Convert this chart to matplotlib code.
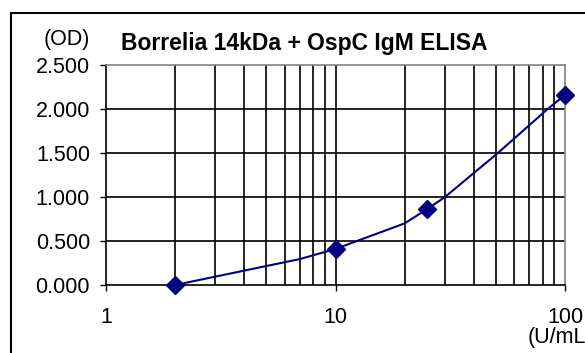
import matplotlib
matplotlib.use("Agg")
import matplotlib.pyplot as plt
from matplotlib.patches import Rectangle
import numpy as np

# calibrator points (markers)
conc = [2, 10, 25, 100]
od = [0.000, 0.410, 0.860, 2.160]
# fitted standard-curve line
curve_x = [2, 7, 10, 20, 25, 30, 51, 84, 100]
curve_y = [0.000, 0.295, 0.410, 0.700, 0.860, 1.000, 1.500, 2.000, 2.160]

yticks = [0.0, 0.5, 1.0, 1.5, 2.0, 2.5]
ytick_labels = ["0.000", "0.500", "1.000", "1.500", "2.000", "2.500"]
xticks = [1, 10, 100]
xtick_labels = ["1", "10", "100"]
title = "Borrelia 14kDa + OspC IgM ELISA"

plt.rcParams['font.family'] = ['Liberation Sans', 'DejaVu Sans']

fig = plt.figure(figsize=(5.85, 3.53), dpi=100)
W, H = 585, 353
ax = fig.add_axes([106 / W, 1 - 285 / H, (565 - 106) / W, (285 - 65) / H])

ax.set_xscale('log')
ax.set_xlim(1, 100)
ax.set_ylim(0, 2.5)

minor = [m * d for d in (1, 10) for m in range(2, 10)]
for xv in minor + [10]:
    ax.axvline(xv, color='black', lw=1.2, zorder=1)
for yv in yticks[1:-1]:
    ax.axhline(yv, color='black', lw=1.2, zorder=1)

ax.plot(curve_x, curve_y, color='#000080', lw=1.5, zorder=3, clip_on=False)
ax.plot(conc, od, linestyle='none', marker='D', markersize=9,
        markerfacecolor='#000080', markeredgecolor='#000080', zorder=4, clip_on=False)

ax.set_xticks(xticks)
ax.set_xticklabels(xtick_labels)
ax.xaxis.set_minor_locator(matplotlib.ticker.NullLocator())
ax.set_yticks(yticks)
ax.set_yticklabels(ytick_labels)
ax.tick_params(axis='both', which='major', direction='out', length=4.5, width=1.0,
               labelsize=15.5, color='black')
ax.tick_params(axis='x', pad=11)
ax.tick_params(axis='y', pad=7)

for s in ('left', 'bottom'):
    ax.spines[s].set_color('black')
    ax.spines[s].set_linewidth(1.2)
for s in ('top', 'right'):
    ax.spines[s].set_color('#808080')
    ax.spines[s].set_linewidth(1.2)

fig.text(304 / W, 1 - 50 / H, title, ha='center', va='baseline', fontsize=16.5, fontweight='bold')
fig.text(67 / W, 1 - 45 / H, "(OD)", ha='center', va='baseline', fontsize=15.5)
fig.text(528 / W, 1 - 343 / H, "(U/mL)", ha='left', va='baseline', fontsize=15.5)

fig.patches.append(Rectangle((11 / W, -0.1), 1.2, 1 - 13 / H + 0.1, transform=fig.transFigure,
                             fill=False, edgecolor='black', lw=1.5, zorder=0))

fig.savefig("out.png", dpi=100)
